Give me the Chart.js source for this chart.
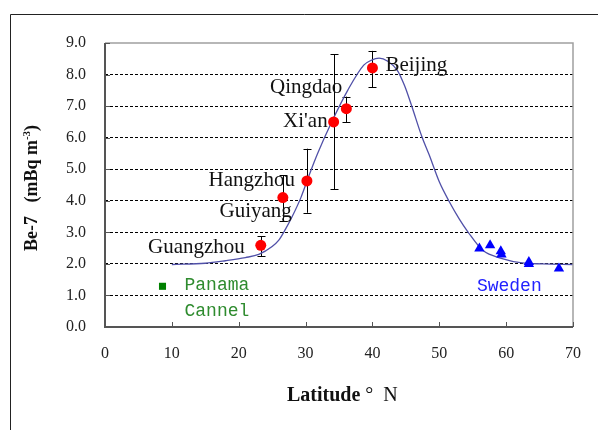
<!DOCTYPE html>
<html>
<head>
<meta charset="utf-8">
<script src="https://cdn.jsdelivr.net/npm/chart.js@4/dist/chart.umd.min.js"></script>
<style>
html,body{margin:0;padding:0;background:#fff;}
#wrap{width:598px;height:430px;position:relative;}
</style>
</head>
<body>
<div id="wrap"><canvas id="c" width="598" height="430"></canvas></div>
<script>
// ---- data ----
const cityNames = ['Guangzhou', 'Guiyang', 'Hangzhou', "Xi'an", 'Qingdao', 'Beijing'];
const cityLat   = [23.3, 26.6, 30.2, 34.2, 36.1, 40.0];
const cityBe    = [2.59, 4.10, 4.63, 6.50, 6.92, 8.21];
const cityLow   = [2.24, 3.36, 3.62, 4.36, 6.49, 7.60];
const cityHigh  = [2.87, 4.81, 5.65, 8.65, 7.30, 8.75];

const swedenLat = [56.0, 57.6, 59.2, 59.3, 63.4, 63.4, 67.9];
const swedenBe  = [2.49, 2.59, 2.40, 2.30, 2.06, 2.00, 1.85];

const panamaLat = [8.6];
const panamaBe  = [1.29];

const fitLat = [10, 15, 18, 21, 23, 25, 26, 27, 28, 29.3, 30.6, 31.8, 33.8, 36.3, 38.7, 39.8, 41, 42.3, 43.7, 44.8, 45.8, 47.4, 48.5, 50.0, 51.5, 53.0, 54.3, 56.5, 59.4, 62.4, 65.4, 70];
const fitBe  = [1.98, 2.02, 2.10, 2.20, 2.30, 2.55, 2.75, 3.10, 3.50, 4.10, 4.85, 5.50, 6.45, 7.50, 8.30, 8.45, 8.52, 8.42, 8.14, 7.65, 7.05, 6.03, 5.45, 4.60, 3.97, 3.42, 3.01, 2.43, 2.17, 2.03, 2.00, 1.98];

const xTicks = [0, 10, 20, 30, 40, 50, 60, 70];
const yTicks = [0, 1, 2, 3, 4, 5, 6, 7, 8, 9];

// ---- label placement (pixel offsets from the data point) ----
const cityLabelOffsets = [
  {dx: -16, dy: 7.5, align: 'right'},
  {dx: 9, dy: 19, align: 'right'},
  {dx: -12, dy: 5.5, align: 'right'},
  {dx: -6, dy: 5, align: 'right'},
  {dx: -4, dy: -16, align: 'right'},
  {dx: 13, dy: 3, align: 'left'}
];

const toXY = (xs, ys) => xs.map((x, i) => ({x: x, y: ys[i]}));

const decorPlugin = {
  id: 'decor',
  beforeDatasetsDraw(chart) {
    const ctx = chart.ctx, xs = chart.scales.x, ys = chart.scales.y;
    // error bars
    ctx.save();
    ctx.strokeStyle = '#000';
    ctx.lineWidth = 1;
    cityLat.forEach((lat, i) => {
      const px = Math.round(xs.getPixelForValue(lat)) + 0.5;
      const pl = ys.getPixelForValue(cityLow[i]);
      const ph = ys.getPixelForValue(cityHigh[i]);
      ctx.beginPath();
      ctx.moveTo(px, pl); ctx.lineTo(px, ph);
      ctx.moveTo(px - 4, Math.round(pl) + 0.5); ctx.lineTo(px + 4, Math.round(pl) + 0.5);
      ctx.moveTo(px - 4, Math.round(ph) + 0.5); ctx.lineTo(px + 4, Math.round(ph) + 0.5);
      ctx.stroke();
    });
    ctx.restore();
  },
  afterDraw(chart) {
    const ctx = chart.ctx, xs = chart.scales.x, ys = chart.scales.y;
    const a = chart.chartArea;
    ctx.save();
    // outer frame
    ctx.strokeStyle = '#222';
    ctx.lineWidth = 1;
    ctx.beginPath();
    ctx.moveTo(10.5, 430); ctx.lineTo(10.5, 14.5); ctx.lineTo(598, 14.5);
    ctx.stroke();
    // plot frame
    ctx.strokeStyle = '#a0a0a0';
    ctx.lineWidth = 1.5;
    ctx.beginPath();
    ctx.moveTo(a.left, a.top); ctx.lineTo(a.right, a.top); ctx.lineTo(a.right, a.bottom);
    ctx.stroke();
    ctx.strokeStyle = '#555';
    ctx.lineWidth = 2;
    ctx.beginPath();
    ctx.moveTo(a.left, a.top); ctx.lineTo(a.left, a.bottom); ctx.lineTo(a.right, a.bottom);
    ctx.stroke();
    // inward ticks
    ctx.lineWidth = 1;
    ctx.beginPath();
    yTicks.forEach(v => {
      const py = Math.round(ys.getPixelForValue(v)) + 0.5;
      ctx.moveTo(a.left, py); ctx.lineTo(a.left + 5, py);
    });
    xTicks.forEach(v => {
      const px = Math.round(xs.getPixelForValue(v)) + 0.5;
      ctx.moveTo(px, a.bottom); ctx.lineTo(px, a.bottom - 5);
    });
    ctx.stroke();

    // city labels
    ctx.font = '21px "Liberation Serif", "Times New Roman", serif';
    ctx.fillStyle = '#111';
    ctx.textBaseline = 'alphabetic';
    cityNames.forEach((n, i) => {
      const o = cityLabelOffsets[i];
      ctx.textAlign = o.align;
      ctx.fillText(n, xs.getPixelForValue(cityLat[i]) + o.dx, ys.getPixelForValue(cityBe[i]) + o.dy);
    });
    // Panama / Sweden
    ctx.font = '18px "Liberation Mono", "DejaVu Sans Mono", monospace';
    ctx.textAlign = 'left';
    ctx.fillStyle = '#2e8b2e';
    const ppx = xs.getPixelForValue(panamaLat[0]), ppy = ys.getPixelForValue(panamaBe[0]);
    ctx.fillText('Panama', ppx + 22, ppy + 3.5);
    ctx.fillText('Cannel', ppx + 22, ppy + 30);
    ctx.fillStyle = '#2222ff';
    ctx.fillText('Sweden', xs.getPixelForValue(swedenLat[0]) - 2.5, ys.getPixelForValue(swedenBe[0]) + 43);

    // x title
    ctx.fillStyle = '#111';
    ctx.textAlign = 'left';
    ctx.font = 'bold 20px "Liberation Serif", "Times New Roman", serif';
    let tx = 287;
    ctx.fillText('Latitude', tx, 401);
    tx += ctx.measureText('Latitude').width;
    ctx.font = '20px "Liberation Serif", "Times New Roman", serif';
    ctx.fillText(' \u00B0  N', tx, 401);

    // y title (rotated)
    ctx.translate(37, 188);
    ctx.rotate(-Math.PI / 2);
    ctx.font = 'bold 18px "Liberation Serif", "Times New Roman", serif';
    const p1 = 'Be-7   (mBq m';
    const sup = '-3';
    const p2 = ')';
    const w1 = ctx.measureText(p1).width;
    const w3 = ctx.measureText(p2).width;
    ctx.font = 'bold 11px "Liberation Serif", "Times New Roman", serif';
    const w2 = ctx.measureText(sup).width;
    let sx = -(w1 + w2 + w3) / 2;
    ctx.font = 'bold 18px "Liberation Serif", "Times New Roman", serif';
    ctx.fillText(p1, sx, 0);
    sx += w1;
    ctx.font = 'bold 11px "Liberation Serif", "Times New Roman", serif';
    ctx.fillText(sup, sx, -7);
    sx += w2;
    ctx.font = 'bold 18px "Liberation Serif", "Times New Roman", serif';
    ctx.fillText(p2, sx, 0);
    ctx.restore();
  }
};

new Chart(document.getElementById('c'), {
  type: 'scatter',
  data: {
    datasets: [
      {
        label: 'fit',
        type: 'line',
        data: toXY(fitLat, fitBe),
        borderColor: '#5050a8',
        borderWidth: 1.3,
        pointRadius: 0,
        fill: false,
        cubicInterpolationMode: 'monotone',
        order: 3
      },
      {
        label: 'China',
        data: toXY(cityLat, cityBe),
        pointStyle: 'circle',
        pointRadius: 5.5,
        backgroundColor: '#ff0000',
        borderColor: '#ff0000',
        borderWidth: 0,
        order: 1
      },
      {
        label: 'Sweden',
        data: toXY(swedenLat, swedenBe),
        pointStyle: 'triangle',
        pointRadius: 6,
        backgroundColor: '#0000ff',
        borderColor: '#0000ff',
        borderWidth: 0,
        order: 1
      },
      {
        label: 'Panama',
        data: toXY(panamaLat, panamaBe),
        pointStyle: 'rect',
        pointRadius: 5,
        backgroundColor: '#008000',
        borderColor: '#008000',
        borderWidth: 0,
        order: 1
      }
    ]
  },
  options: {
    responsive: false,
    animation: false,
    maintainAspectRatio: false,
    layout: {padding: {left: 0, top: 43, right: 20, bottom: 0}},
    plugins: {legend: {display: false}, tooltip: {enabled: false}},
    scales: {
      x: {
        type: 'linear',
        min: 0, max: 70,
        afterFit: s => { s.height = 103; },
        afterBuildTicks: s => { s.ticks = xTicks.map(v => ({value: v})); },
        ticks: {
          padding: 17,
          color: '#222',
          font: {family: '"Liberation Serif", "Times New Roman", serif', size: 16},
          callback: v => String(v)
        },
        grid: {display: false, drawTicks: false},
        border: {display: false}
      },
      y: {
        type: 'linear',
        min: 0, max: 9,
        afterFit: s => { s.width = 105; },
        afterBuildTicks: s => { s.ticks = yTicks.map(v => ({value: v})); },
        ticks: {
          padding: 19,
          color: '#222',
          font: {family: '"Liberation Serif", "Times New Roman", serif', size: 16},
          callback: v => v.toFixed(1)
        },
        grid: {
          drawTicks: false,
          lineWidth: 1,
          color: ctx => (ctx.tick && (ctx.tick.value === 0 || ctx.tick.value === 9)) ? 'rgba(0,0,0,0)' : '#000'
        },
        border: {display: false, dash: [3, 2]}
      }
    }
  },
  plugins: [decorPlugin]
});
</script>
</body>
</html>
